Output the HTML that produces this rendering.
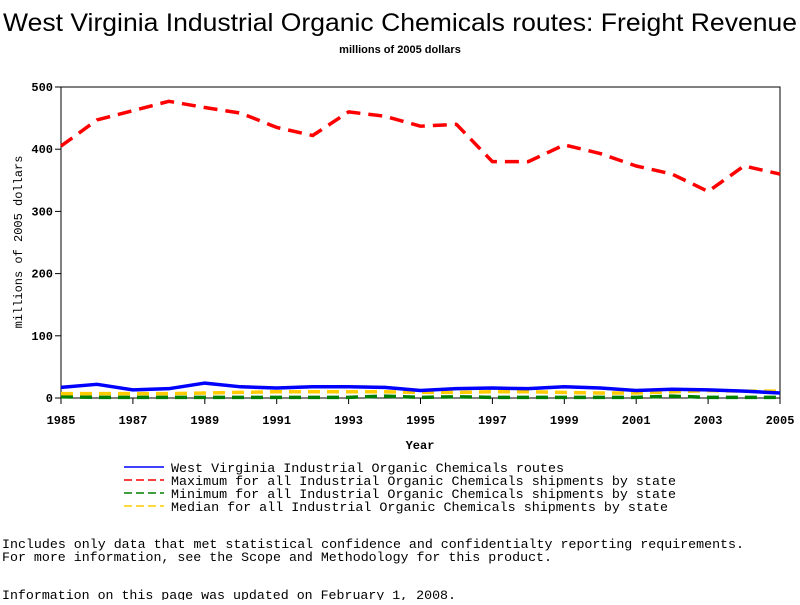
<!DOCTYPE html>
<html><head><meta charset="utf-8"><style>
body{margin:0;background:#fff;width:800px;height:600px;overflow:hidden}
svg text{font-family:"Liberation Mono",monospace;fill:#000}
</style></head><body>
<svg id="chart" width="800" height="600" xmlns="http://www.w3.org/2000/svg">
<text x="3" y="31" font-size="25" textLength="794" lengthAdjust="spacingAndGlyphs" style="font-family:'Liberation Sans',sans-serif">West Virginia Industrial Organic Chemicals routes: Freight Revenue</text>
<text x="400" y="53" font-size="11" font-weight="bold" text-anchor="middle" style="font-family:'Liberation Sans',sans-serif">millions of 2005 dollars</text>
<rect x="61" y="87" width="719" height="311" fill="none" stroke="#000" stroke-width="1"/>
<g id="axes"></g>
<g id="series"></g>
<text transform="translate(22,242) rotate(-90)" font-size="12" text-anchor="middle">millions of 2005 dollars</text>
<text x="420" y="449" font-size="12" font-weight="bold" text-anchor="middle">Year</text>
<g>
<line x1="124" y1="467" x2="164" y2="467" stroke="#0000ff" stroke-width="1.5"/>
<line x1="124" y1="480" x2="164" y2="480" stroke="#ff0000" stroke-width="1.5" stroke-dasharray="8,4"/>
<line x1="124" y1="493" x2="164" y2="493" stroke="#008000" stroke-width="1.5" stroke-dasharray="8,4"/>
<line x1="124" y1="506" x2="164" y2="506" stroke="#ffcc00" stroke-width="1.5" stroke-dasharray="8,4"/>
<text x="171" y="472" font-size="13" textLength="393" lengthAdjust="spacingAndGlyphs">West Virginia Industrial Organic Chemicals routes</text>
<text x="171" y="485" font-size="13" textLength="505" lengthAdjust="spacingAndGlyphs">Maximum for all Industrial Organic Chemicals shipments by state</text>
<text x="171" y="498" font-size="13" textLength="505" lengthAdjust="spacingAndGlyphs">Minimum for all Industrial Organic Chemicals shipments by state</text>
<text x="171" y="511" font-size="13" textLength="497" lengthAdjust="spacingAndGlyphs">Median for all Industrial Organic Chemicals shipments by state</text>
</g>
<text x="2" y="548" font-size="13" textLength="742" lengthAdjust="spacingAndGlyphs">Includes only data that met statistical confidence and confidentialty reporting requirements.</text>
<text x="2" y="561" font-size="13" textLength="550" lengthAdjust="spacingAndGlyphs">For more information, see the Scope and Methodology for this product.</text>
<text x="2" y="599" font-size="13" textLength="454" lengthAdjust="spacingAndGlyphs">Information on this page was updated on February 1, 2008.</text>
</svg>
<script>
const years=[1985,1986,1987,1988,1989,1990,1991,1992,1993,1994,1995,1996,1997,1998,1999,2000,2001,2002,2003,2004,2005];
const wvValues=[17,22,13,15,24,18,16,18,18,17,12,15,16,15,18,16,12,14,13,11,8];
const maxValues=[405,447,462,477,467,458,435,422,460,453,437,440,380,380,407,393,373,360,332,373,360];
const minValues=[2,1,1,1,1,1,1,1,1,3,1,2,1,1,1,1,1,3,1,1,1];
const medianValues=[7,7,7,7,8,9,10,10,10,10,9,9,10,10,9,8,8,10,12,11,11];
const yTicks=[0,100,200,300,400,500];
const xTicks=[1985,1987,1989,1991,1993,1995,1997,1999,2001,2003,2005];
const NS="http://www.w3.org/2000/svg";
const X0=61,X1=780,Y0=398,Y1=87;
function xs(v){return X0+(v-1985)/(2005-1985)*(X1-X0);}
function ys(v){return Y0-(v/500)*(Y0-Y1);}
const axes=document.getElementById('axes'),ser=document.getElementById('series');
function mk(t,a,p){const e=document.createElementNS(NS,t);for(const k in a)e.setAttribute(k,a[k]);p.appendChild(e);return e;}
yTicks.forEach(v=>{
  const l=mk('line',{x1:X0-6,x2:X0,y1:ys(v),y2:ys(v),stroke:'#000'},axes);
  
  
  const t=mk('text',{x:X0-8,y:ys(v)+4,'font-size':12,'font-weight':'bold','text-anchor':'end'},axes);
  t.textContent=v;
  
  
});
xTicks.forEach(v=>{
  const l=mk('line',{x1:xs(v),x2:xs(v),y1:Y0,y2:Y0+6,stroke:'#000'},axes);
  
  
  const t=mk('text',{x:xs(v),y:Y0+26,'font-size':12,'font-weight':'bold','text-anchor':'middle'},axes);
  t.textContent=v;
  
  
});
function line(vals,color,dash,name){
  const pts=years.map((y,i)=>xs(y)+','+ys(vals[i])).join(' ');
  const p=mk('polyline',{points:pts,fill:'none',stroke:color,'stroke-width':3.5,'stroke-dasharray':dash||'none','stroke-linejoin':'round'},ser);
  
  
}
line(minValues,'#008000','12,7','min-series');
line(medianValues,'#ffcc00','12,7','median-series');
line(wvValues,'#0000ff',null,'wv-series');
line(maxValues,'#ff0000','14,8','max-series');
</script>
</body></html>
